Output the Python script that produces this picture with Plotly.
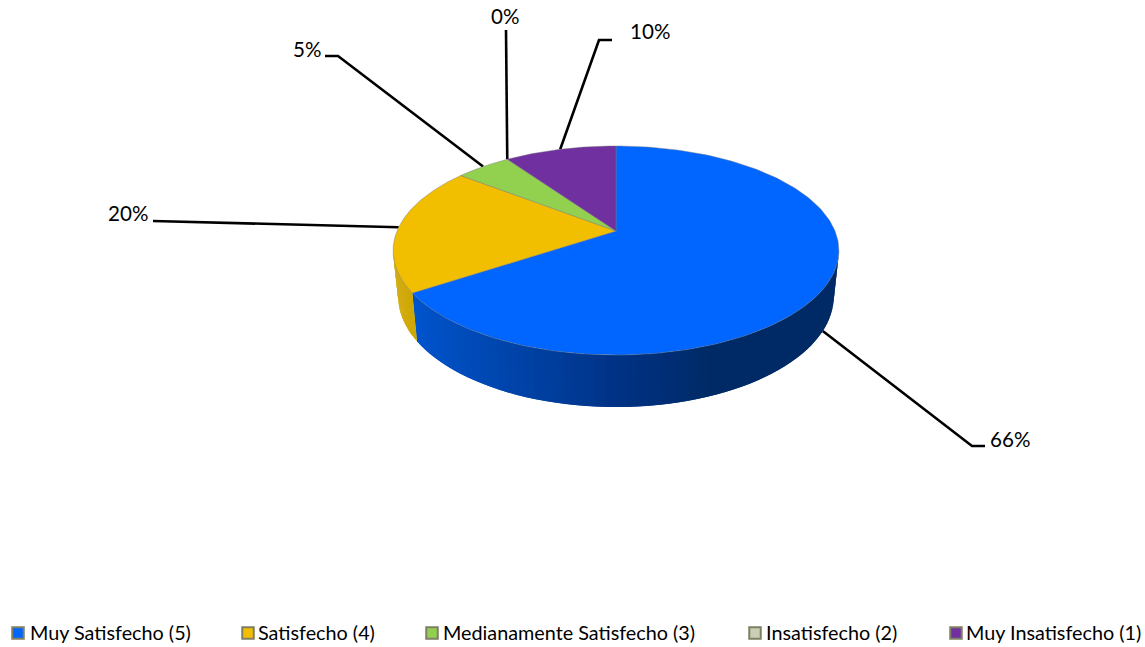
import numpy as np
import plotly.graph_objects as go

# ---- data ----
categories = ["Muy Satisfecho (5)", "Satisfecho (4)", "Medianamente Satisfecho (3)", "Insatisfecho (2)", "Muy Insatisfecho (1)"]
values = [65.7, 19.8, 4.8, 0, 9.7]
pct_labels = ["66%", "20%", "5%", "0%", "10%"]
colors = ["#0066FF", "#F2BE00", "#92D050", "#C9CEB4", "#7030A0"]

# ---- layout constants (pixel-like axis units) ----
CX, CY = 616, 231          # apex of the top face
A, B, K = 219, 100.9, 0.1866  # perspective disc
LOW_CY, LOW_A, LOW_B = 275.5, 214, 107  # lower rim
FONT = "Lato"
LABEL_SIZE = 20.6
LEGEND_SIZE = 19.8
# where each leader line elbows / ends, and where its label sits
leader_ends = [[(972, 446), (985, 446)], [(153, 221)], [(338, 56), (325, 56)], [(506, 30)], [(599, 40), (612, 40)]]
label_pos = [(990, 442), (108, 216), (293, 52), (491, 19), (630, 34)]
legend_marker_x = [18, 248, 432, 755, 956]
legend_text_x = [30, 258, 443, 766, 966]
LEGEND_Y = 633
LEGEND_TEXT_Y = 635


def top(theta):
    u, v = np.sin(theta), np.cos(theta)
    w = 1 + K * v
    return CX + A * u / w, CY - B * v / w


def low(theta):
    u, v = np.sin(theta), np.cos(theta)
    w = 1 + K * v
    return CX + LOW_A * u / w, LOW_CY - LOW_B * v / w


vals = np.array(values, dtype=float)
cum = np.concatenate([[0], np.cumsum(vals)]) / vals.sum() * 2 * np.pi
starts, ends = cum[:-1], cum[1:]
mids = (starts + ends) / 2

fig = go.Figure()

# leader lines (drawn below the pie)
for i in range(len(values)):
    ax, ay = low(mids[i]) if i == 0 else top(mids[i])
    xs = [float(ax)] + [p[0] for p in leader_ends[i]]
    ys = [float(ay)] + [p[1] for p in leader_ends[i]]
    fig.add_trace(go.Scatter(x=xs, y=ys, mode="lines", line=dict(color="black", width=2.6),
                             showlegend=False, hoverinfo="skip"))


def wall_color(i, x):
    if i == 1:
        return "#CFA600"
    g = np.interp(x, [417, 616, 720, 840], [84, 52, 42, 42])
    b = np.interp(x, [417, 616, 720, 840], [204, 136, 102, 102])
    return f"rgb(0,{int(g)},{int(b)})"


# side wall, split in overlapping strips to shade it
WALL_FROM, WALL_TO = np.radians(100.7), np.radians(259.3)
for i in range(len(values)):
    t0, t1 = max(starts[i], WALL_FROM), min(ends[i], WALL_TO)
    if t1 <= t0:
        continue
    edges = np.linspace(t0, t1, 61)
    for k in range(len(edges) - 1):
        th = np.linspace(edges[k], edges[min(k + 2, len(edges) - 1)], 6)
        tx, ty = top(th)
        lx, ly = low(th[::-1])
        col = wall_color(i, float(top(edges[k])[0]))
        fig.add_trace(go.Scatter(x=np.r_[tx, lx, tx[0]], y=np.r_[ty, ly, ty[0]], mode="lines",
                                 fill="toself", fillcolor=col, line=dict(width=0),
                                 showlegend=False, hoverinfo="skip"))

# top face wedges
for i in range(len(values)):
    if values[i] == 0:
        continue
    th = np.linspace(starts[i], ends[i], 200)
    px, py = top(th)
    fig.add_trace(go.Scatter(x=np.r_[CX, px, CX], y=np.r_[CY, py, CY], mode="lines", fill="toself",
                             fillcolor=colors[i], line=dict(color="rgba(120,120,120,0.55)", width=0.8),
                             name=categories[i], showlegend=False, hoverinfo="name"))

# percentage labels
fig.add_trace(go.Scatter(x=[p[0] for p in label_pos], y=[p[1] for p in label_pos], mode="text",
                         text=pct_labels, textposition="middle right",
                         textfont=dict(family=FONT, size=LABEL_SIZE, color="black"),
                         showlegend=False, hoverinfo="skip"))

# legend row
fig.add_trace(go.Scatter(x=legend_marker_x, y=[LEGEND_Y] * 5, mode="markers",
                         marker=dict(symbol="square", size=11.5, color=colors,
                                     line=dict(color="#7F7F63", width=2)),
                         showlegend=False, hoverinfo="skip"))
fig.add_trace(go.Scatter(x=legend_text_x, y=[LEGEND_TEXT_Y] * 5, mode="text", text=categories,
                         textposition="middle right",
                         textfont=dict(family=FONT, size=LEGEND_SIZE, color="black"),
                         showlegend=False, hoverinfo="skip"))

fig.update_layout(width=1145, height=647, margin=dict(l=0, r=0, t=0, b=0),
                  paper_bgcolor="white", plot_bgcolor="white", showlegend=False,
                  xaxis=dict(range=[0, 1145], visible=False, fixedrange=True),
                  yaxis=dict(range=[647, 0], visible=False, fixedrange=True))
fig.write_html("out.html", post_script="document.body.style.margin='0';document.body.style.overflow='hidden';",
               config={"displayModeBar": False})
